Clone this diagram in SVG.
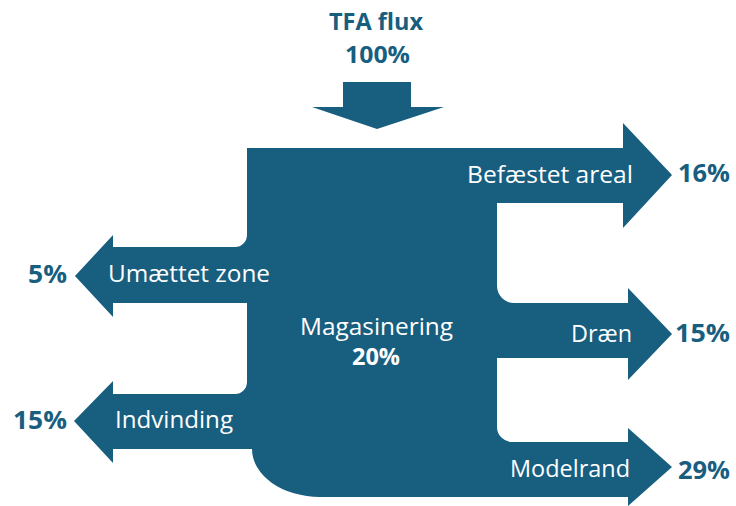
<svg xmlns="http://www.w3.org/2000/svg" width="736" height="506" viewBox="0 0 736 506">
<defs>
<style>
.flow{fill:#175E7F;stroke:none}
.lbl{font-family:"Open Sans","Liberation Sans",sans-serif;font-size:23px;fill:#FFFFFF}
.pct{font-family:"Open Sans","Liberation Sans",sans-serif;font-size:25px;font-weight:bold;fill:#175E7F}
.pctw{font-family:"Open Sans","Liberation Sans",sans-serif;font-size:23px;font-weight:bold;fill:#FFFFFF}
.ttl{font-family:"Open Sans","Liberation Sans",sans-serif;font-size:23px;font-weight:bold;fill:#175E7F}
</style>
</defs>
<rect width="736" height="506" fill="#FFFFFF"/>
<g id="connectors">
<polygon id="inflow-arrow" class="flow" points="343,82 411,82 411,107 444,107 377,129 312,107 343,107"/>
</g>
<g id="magasinering">
<path class="flow" d="M247,148 L623,148 L623,123 L672,175 L623,228 L623,203 L497,203 L497,286 A17,17 0 0 0 514,303 L628,303 L628,288 L672,334 L628,380 L628,358 L497,358 L497,427 A15,15 0 0 0 512,442 L628,442 L628,428 L672,467 L628,506 L628,497 L320,497 A68,48 0 0 1 252,449 L113,449 L113,463 L74,421 L113,381 L113,394 L235,394 A12,12 0 0 0 247,382 L247,303 L113,303 L113,317 L75,276 L113,235 L113,247 L235,247 A12,12 0 0 0 247,235 Z"/>
<text class="lbl" x="300" y="335" textLength="153" lengthAdjust="spacingAndGlyphs">Magasinering</text>
<text class="pctw" x="352" y="365" textLength="48" lengthAdjust="spacingAndGlyphs">20%</text>
</g>
<g id="tfa-flux">
<text class="ttl" x="329" y="30" textLength="94" lengthAdjust="spacingAndGlyphs">TFA flux</text>
<text class="ttl" x="345" y="63" textLength="65" lengthAdjust="spacingAndGlyphs">100%</text>
</g>
<g id="befaestet-areal">
<text class="lbl" x="467" y="183" textLength="166" lengthAdjust="spacingAndGlyphs">Befæstet areal</text>
<text class="pct" x="678" y="182" textLength="52" lengthAdjust="spacingAndGlyphs">16%</text>
</g>
<g id="draen">
<text class="lbl" x="571" y="342" textLength="61" lengthAdjust="spacingAndGlyphs">Dræn</text>
<text class="pct" x="675" y="342" textLength="55" lengthAdjust="spacingAndGlyphs">15%</text>
</g>
<g id="modelrand">
<text class="lbl" x="510" y="477" textLength="120" lengthAdjust="spacingAndGlyphs">Modelrand</text>
<text class="pct" x="678" y="479" textLength="52" lengthAdjust="spacingAndGlyphs">29%</text>
</g>
<g id="umaettet-zone">
<text class="lbl" x="108" y="282" textLength="162" lengthAdjust="spacingAndGlyphs">Umættet zone</text>
<text class="pct" x="28" y="283" textLength="39" lengthAdjust="spacingAndGlyphs">5%</text>
</g>
<g id="indvinding">
<text class="lbl" x="115" y="428" textLength="118" lengthAdjust="spacingAndGlyphs">Indvinding</text>
<text class="pct" x="13" y="429" textLength="54" lengthAdjust="spacingAndGlyphs">15%</text>
</g>
</svg>
